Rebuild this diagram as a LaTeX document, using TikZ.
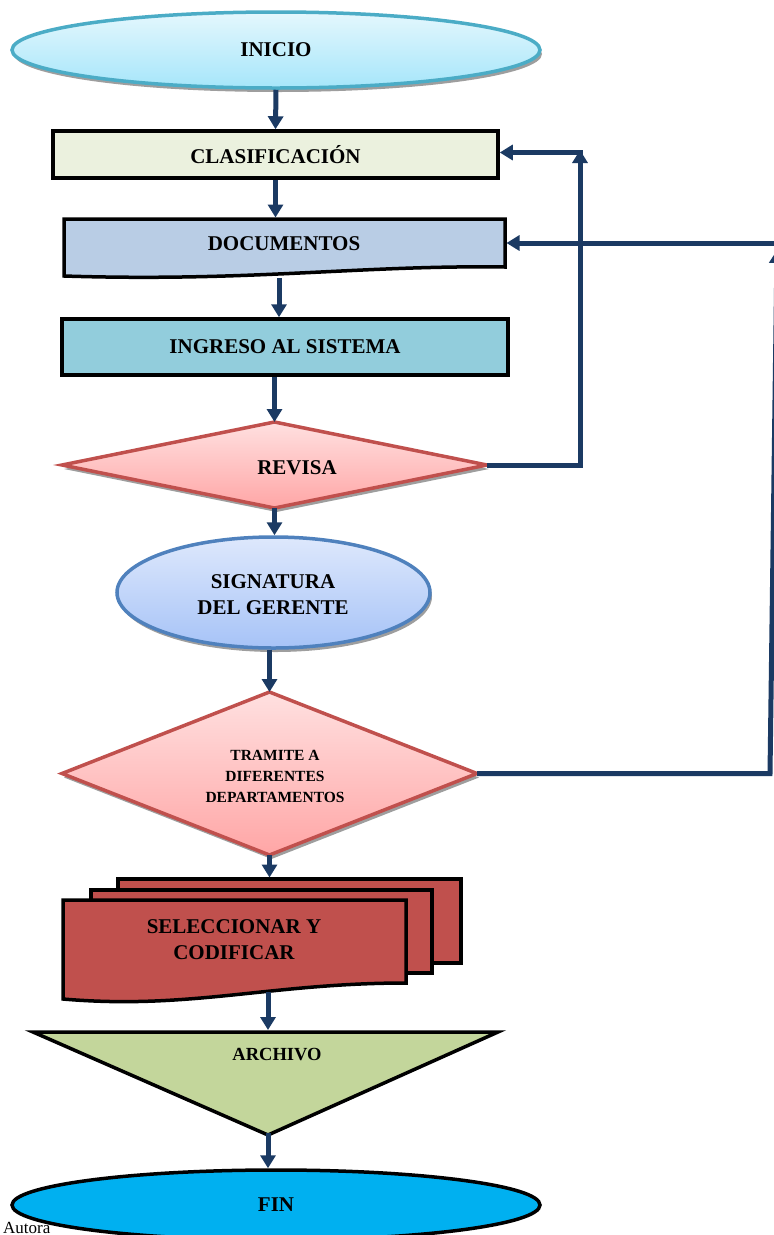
\documentclass[tikz,border=0pt]{standalone}
\usepackage{fontspec}
\setmainfont{Liberation Serif}
\usetikzlibrary{shapes.geometric,arrows.meta,shadows,calc}
\definecolor{arrowc}{RGB}{27,58,99}
\definecolor{inib}{RGB}{75,172,198}
\definecolor{initop}{RGB}{228,247,253}
\definecolor{inibot}{RGB}{166,230,250}
\definecolor{clasf}{RGB}{235,241,222}
\definecolor{docf}{RGB}{185,205,229}
\definecolor{ingf}{RGB}{146,205,220}
\definecolor{revb}{RGB}{192,80,77}
\definecolor{revtop}{RGB}{255,224,224}
\definecolor{revbot}{RGB}{255,166,166}
\definecolor{sigb}{RGB}{79,129,189}
\definecolor{sigtop}{RGB}{222,232,252}
\definecolor{sigbot}{RGB}{166,195,247}
\definecolor{self}{RGB}{192,80,77}
\definecolor{archf}{RGB}{195,214,155}
\definecolor{finf}{RGB}{0,176,240}
\begin{document}
\begin{tikzpicture}[x=1pt,y=-1pt,
  conn/.style={draw=arrowc, line width=5pt, -{Triangle[width=15pt,length=13pt]}},
  lbl/.style={font=\fontsize{21}{26}\selectfont\bfseries, align=center, inner sep=0pt},
  shd/.style={drop shadow={shadow xshift=2pt, shadow yshift=-4pt, fill=black!38, opacity=1}},
  box/.style={draw=black, line width=3.5pt, inner sep=0pt},
]
\useasboundingbox (0,0) rectangle (774,1235);
\clip (0,0) rectangle (774,1235);

% INICIO
\node[ellipse, shd, draw=inib, line width=3.5pt, top color=initop, bottom color=inibot,
      minimum width=528pt, minimum height=76pt, inner sep=0pt, lbl] (ini) at (276,50) {INICIO};

% CLASIFICACION
\node[box, fill=clasf, minimum width=445pt, minimum height=47pt, lbl] (clas) at (275.5,154.5) {CLASIFICACIÓN};

% DOCUMENTOS (document shape)
\draw[fill=docf, line width=3.5pt, line join=miter] (64,219) -- (505,219) -- (505,267)
  .. controls (360,265) and (250,282) .. (64,276) -- cycle;
\node[lbl] (doc) at (284,244) {DOCUMENTOS};
\coordinate (docN) at (277,217.5);
\coordinate (docS) at (279,278);
\coordinate (docE) at (506.5,243);

% INGRESO
\node[box, fill=ingf, minimum width=446pt, minimum height=56pt, lbl] (ing) at (285,347) {INGRESO AL SISTEMA};

% REVISA
\node[diamond, shd, draw=revb, line width=3.5pt, top color=revtop, bottom color=revbot,
      minimum width=425pt, minimum height=86pt, inner sep=0pt, outer sep=0pt] (rev) at (274.5,465) {};
\node[lbl] (revt) at (297,468) {REVISA};

% SIGNATURA
\node[ellipse, shd, draw=sigb, line width=3.5pt, top color=sigtop, bottom color=sigbot,
      minimum width=313pt, minimum height=111pt, inner sep=0pt] (sig) at (273.5,592.5) {};
\node[lbl] (sigt) at (273,595) {SIGNATURA\\DEL GERENTE};

% TRAMITE
\node[diamond, shd, draw=revb, line width=3.5pt, top color=revtop, bottom color=revbot,
      minimum width=415pt, minimum height=163pt, inner sep=0pt, outer sep=0pt] (tra) at (269.5,773.5) {};
\node[lbl, font=\fontsize{15.5}{21}\selectfont\bfseries] (trat) at (275,776) {TRAMITE A\\DIFERENTES\\DEPARTAMENTOS};

% SELECCIONAR Y CODIFICAR (multidocument)
\draw[fill=self, line width=3.5pt] (118,879) rectangle (461,963);
\draw[fill=self, line width=3.5pt] (91,890) rectangle (432,973);
\draw[fill=self, line width=3.5pt, line join=miter] (63,900) -- (406,900) -- (406,983)
  .. controls (270,983) and (190,1010) .. (63,999) -- cycle;
\node[lbl] (selt) at (234,940) {SELECCIONAR Y\\CODIFICAR};
\coordinate (selN) at (269.5,877.5);
\coordinate (selS) at (268,992);

% ARCHIVO
\draw[fill=archf, line width=3.5pt, line join=miter] (33,1032) -- (498,1032) -- (268,1135) -- cycle;
\node[lbl, font=\fontsize{18.5}{22}\selectfont\bfseries] (archt) at (277,1055) {ARCHIVO};
\coordinate (archN) at (268,1030);
\coordinate (archS) at (268,1133);

% FIN
\node[ellipse, draw=black, line width=3.5pt, fill=finf,
      minimum width=528pt, minimum height=70pt, inner sep=0pt, lbl] (fin) at (276,1205) {FIN};

% Autora
\node[anchor=base west, inner sep=0pt, font=\fontsize{17}{20}\selectfont] (aut) at (3,1233) {Autora};

% connectors
\draw[conn] (ini.south) -- (clas.north);
\draw[conn] (clas.south) -- (clas.south |- docN);
\draw[conn] (docS) -- (docS |- ing.north);
\draw[conn] (rev.north |- ing.south) -- (rev.north);
\draw[conn] (rev.south) -- (rev.south |- sig.north);
\draw[conn] (tra.north |- sig.south) -- (tra.north);
\draw[conn] (tra.south) -- (selN);
\draw[conn] (selS) -- (archN);
\draw[conn] (archS) -- (archS |- fin.north);

% loop REVISA -> CLASIFICACION
\coordinate (c1) at (580,150);
\coordinate (c1b) at (582.5,152.5);
\draw[conn] (rev.east) -| (c1);
\draw[conn] (c1b) -- (clas.east |- c1b);

% loop TRAMITE -> DOCUMENTOS
\coordinate (c2) at (770,773.5);
\coordinate (c3) at (777,250);
\coordinate (c4) at (800,243);
\draw[conn] (tra.east) -- (c2) -- (c3);
\draw[conn] (c4) -- (docE);
\end{tikzpicture}
\end{document}
